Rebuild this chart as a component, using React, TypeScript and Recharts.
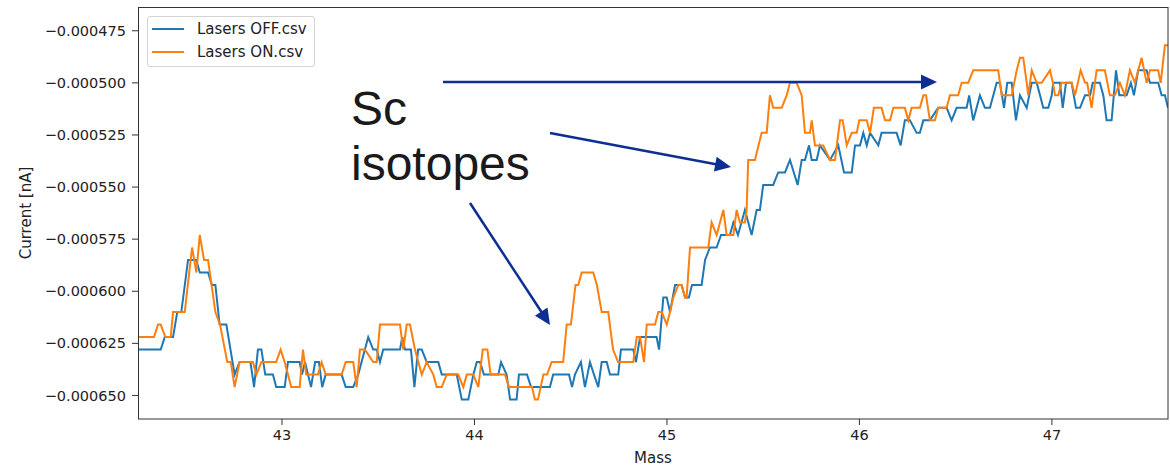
import React from 'react';
import { LineChart, Line, XAxis, YAxis, Legend } from 'recharts';

const massTicks = [43, 44, 45, 46, 47];
const currentTicks = [-0.00065, -0.000625, -0.0006, -0.000575, -0.00055, -0.000525, -0.0005, -0.000475];

const seriesNames = ['Lasers OFF.csv', 'Lasers ON.csv'];
const seriesColors = ['#1f77b4', '#ff7f0e'];

// Lasers OFF (blue)
const offMass = [
  42.252, 42.370, 42.391, 42.434, 42.456, 42.477, 42.512, 42.555, 42.573, 42.616,
  42.636, 42.654, 42.676, 42.711, 42.754, 42.780, 42.836, 42.855, 42.875, 42.893,
  42.913, 42.953, 42.970, 43.014, 43.031, 43.092, 43.104, 43.120, 43.151, 43.172,
  43.192, 43.209, 43.227, 43.310, 43.331, 43.370, 43.396, 43.448, 43.474, 43.492,
  43.509, 43.526, 43.613, 43.625, 43.639, 43.670, 43.688, 43.707, 43.726, 43.752,
  43.812, 43.830, 43.908, 43.934, 43.968, 43.994, 44.012, 44.029, 44.049, 44.124,
  44.138, 44.167, 44.185, 44.219, 44.231, 44.273, 44.294, 44.392, 44.409, 44.491,
  44.507, 44.522, 44.553, 44.574, 44.600, 44.621, 44.643, 44.661, 44.687, 44.704,
  44.747, 44.761, 44.825, 44.839, 44.860, 44.946, 44.959, 44.981, 44.999, 45.016,
  45.042, 45.076, 45.094, 45.114, 45.130, 45.180, 45.198, 45.223, 45.258, 45.281,
  45.327, 45.345, 45.369, 45.405, 45.440, 45.466, 45.483, 45.500, 45.552, 45.578,
  45.613, 45.639, 45.679, 45.700, 45.717, 45.738, 45.752, 45.778, 45.795, 45.847,
  45.890, 45.920, 45.960, 45.977, 46.003, 46.020, 46.038, 46.055, 46.098, 46.115,
  46.193, 46.214, 46.236, 46.262, 46.297, 46.314, 46.332, 46.366, 46.409, 46.453,
  46.479, 46.505, 46.557, 46.570, 46.591, 46.626, 46.652, 46.678, 46.713, 46.730,
  46.751, 46.768, 46.791, 46.813, 46.834, 46.869, 46.895, 46.921, 46.938, 46.955,
  46.981, 46.999, 47.007, 47.042, 47.056, 47.073, 47.102, 47.125, 47.146, 47.172,
  47.198, 47.212, 47.249, 47.267, 47.284, 47.310, 47.333, 47.350, 47.388, 47.410,
  47.426, 47.448, 47.492, 47.509, 47.552, 47.570, 47.587, 47.603,
];
const offCurrent = [
  -0.000628, -0.000628, -0.000622, -0.000622, -0.000610, -0.000610, -0.000585, -0.000585, -0.000591, -0.000591,
  -0.000597, -0.000597, -0.000616, -0.000616, -0.000640, -0.000634, -0.000634, -0.000646, -0.000628, -0.000628,
  -0.000640, -0.000640, -0.000646, -0.000646, -0.000634, -0.000634, -0.000640, -0.000634, -0.000646, -0.000634,
  -0.000634, -0.000646, -0.000640, -0.000640, -0.000646, -0.000646, -0.000640, -0.000622, -0.000628, -0.000628,
  -0.000634, -0.000628, -0.000628, -0.000622, -0.000628, -0.000628, -0.000646, -0.000628, -0.000628, -0.000634,
  -0.000634, -0.000640, -0.000640, -0.000652, -0.000652, -0.000640, -0.000634, -0.000634, -0.000640, -0.000640,
  -0.000634, -0.000640, -0.000652, -0.000652, -0.000640, -0.000640, -0.000646, -0.000646, -0.000640, -0.000640,
  -0.000646, -0.000640, -0.000634, -0.000646, -0.000634, -0.000640, -0.000646, -0.000634, -0.000634, -0.000640,
  -0.000640, -0.000628, -0.000628, -0.000634, -0.000622, -0.000622, -0.000628, -0.000603, -0.000603, -0.000610,
  -0.000597, -0.000597, -0.000603, -0.000603, -0.000597, -0.000597, -0.000585, -0.000579, -0.000579, -0.000573,
  -0.000573, -0.000567, -0.000573, -0.000561, -0.000573, -0.000561, -0.000561, -0.000549, -0.000549, -0.000543,
  -0.000543, -0.000537, -0.000549, -0.000537, -0.000537, -0.000530, -0.000537, -0.000537, -0.000530, -0.000537,
  -0.000530, -0.000543, -0.000543, -0.000530, -0.000530, -0.000524, -0.000530, -0.000524, -0.000530, -0.000524,
  -0.000524, -0.000530, -0.000518, -0.000518, -0.000524, -0.000524, -0.000518, -0.000518, -0.000512, -0.000512,
  -0.000518, -0.000512, -0.000512, -0.000506, -0.000518, -0.000506, -0.000512, -0.000512, -0.000500, -0.000500,
  -0.000512, -0.000500, -0.000500, -0.000518, -0.000506, -0.000512, -0.000500, -0.000500, -0.000506, -0.000512,
  -0.000512, -0.000506, -0.000500, -0.000500, -0.000512, -0.000500, -0.000500, -0.000512, -0.000512, -0.000506,
  -0.000506, -0.000500, -0.000500, -0.000506, -0.000518, -0.000518, -0.000494, -0.000506, -0.000506, -0.000500,
  -0.000506, -0.000494, -0.000494, -0.000500, -0.000500, -0.000506, -0.000506, -0.000512,
];

// Lasers ON (orange)
const onMass = [
  42.252, 42.335, 42.356, 42.370, 42.394, 42.422, 42.434, 42.495, 42.533, 42.555,
  42.573, 42.595, 42.616, 42.654, 42.678, 42.716, 42.734, 42.754, 42.780, 42.849,
  42.867, 42.893, 42.970, 42.993, 43.014, 43.048, 43.092, 43.109, 43.126, 43.187,
  43.206, 43.227, 43.310, 43.331, 43.370, 43.388, 43.405, 43.431, 43.474, 43.492,
  43.509, 43.613, 43.630, 43.648, 43.665, 43.691, 43.726, 43.752, 43.786, 43.804,
  43.830, 43.856, 43.916, 43.942, 43.960, 43.994, 44.020, 44.043, 44.067, 44.084,
  44.159, 44.179, 44.299, 44.314, 44.330, 44.358, 44.377, 44.401, 44.461, 44.479,
  44.501, 44.525, 44.539, 44.557, 44.617, 44.636, 44.661, 44.695, 44.720, 44.746,
  44.825, 44.843, 44.860, 44.881, 44.895, 44.938, 44.955, 44.973, 44.999, 45.016,
  45.033, 45.059, 45.076, 45.094, 45.102, 45.120, 45.215, 45.232, 45.258, 45.293,
  45.310, 45.345, 45.362, 45.379, 45.405, 45.414, 45.422, 45.457, 45.492, 45.518,
  45.535, 45.552, 45.596, 45.622, 45.639, 45.674, 45.700, 45.717, 45.743, 45.752,
  45.769, 45.812, 45.847, 45.873, 45.899, 45.913, 45.934, 45.960, 45.986, 45.999,
  46.038, 46.055, 46.075, 46.115, 46.133, 46.159, 46.176, 46.236, 46.254, 46.271,
  46.314, 46.332, 46.346, 46.366, 46.392, 46.409, 46.453, 46.470, 46.513, 46.531,
  46.565, 46.591, 46.721, 46.739, 46.791, 46.817, 46.834, 46.851, 46.869, 46.877,
  46.895, 46.921, 46.947, 46.990, 47.005, 47.016, 47.033, 47.050, 47.102, 47.120,
  47.149, 47.172, 47.183, 47.206, 47.232, 47.275, 47.301, 47.327, 47.353, 47.379,
  47.405, 47.431, 47.466, 47.492, 47.509, 47.552, 47.565, 47.587, 47.603,
];
const onCurrent = [
  -0.000622, -0.000622, -0.000616, -0.000616, -0.000622, -0.000622, -0.000610, -0.000610, -0.000579, -0.000591,
  -0.000573, -0.000585, -0.000585, -0.000610, -0.000616, -0.000634, -0.000634, -0.000646, -0.000634, -0.000634,
  -0.000640, -0.000634, -0.000634, -0.000628, -0.000634, -0.000646, -0.000646, -0.000628, -0.000640, -0.000640,
  -0.000634, -0.000640, -0.000640, -0.000634, -0.000634, -0.000646, -0.000628, -0.000628, -0.000634, -0.000634,
  -0.000616, -0.000616, -0.000628, -0.000616, -0.000616, -0.000628, -0.000640, -0.000634, -0.000640, -0.000646,
  -0.000646, -0.000640, -0.000640, -0.000646, -0.000640, -0.000640, -0.000646, -0.000628, -0.000628, -0.000640,
  -0.000640, -0.000646, -0.000646, -0.000652, -0.000652, -0.000640, -0.000640, -0.000634, -0.000634, -0.000616,
  -0.000616, -0.000597, -0.000597, -0.000591, -0.000591, -0.000597, -0.000610, -0.000610, -0.000628, -0.000634,
  -0.000634, -0.000622, -0.000622, -0.000634, -0.000616, -0.000616, -0.000610, -0.000610, -0.000616, -0.000610,
  -0.000603, -0.000597, -0.000597, -0.000603, -0.000603, -0.000579, -0.000579, -0.000567, -0.000573, -0.000561,
  -0.000573, -0.000573, -0.000561, -0.000567, -0.000567, -0.000561, -0.000537, -0.000537, -0.000524, -0.000524,
  -0.000506, -0.000512, -0.000512, -0.000506, -0.000500, -0.000500, -0.000506, -0.000524, -0.000524, -0.000518,
  -0.000530, -0.000530, -0.000537, -0.000537, -0.000518, -0.000518, -0.000530, -0.000524, -0.000524, -0.000518,
  -0.000518, -0.000524, -0.000512, -0.000512, -0.000518, -0.000518, -0.000512, -0.000512, -0.000518, -0.000512,
  -0.000512, -0.000506, -0.000506, -0.000518, -0.000518, -0.000512, -0.000512, -0.000506, -0.000506, -0.000500,
  -0.000500, -0.000494, -0.000494, -0.000506, -0.000506, -0.000494, -0.000488, -0.000488, -0.000500, -0.000506,
  -0.000494, -0.000500, -0.000500, -0.000494, -0.000500, -0.000506, -0.000506, -0.000500, -0.000500, -0.000506,
  -0.000494, -0.000500, -0.000500, -0.000512, -0.000494, -0.000494, -0.000506, -0.000506, -0.000500, -0.000506,
  -0.000494, -0.000500, -0.000488, -0.000500, -0.000494, -0.000494, -0.000500, -0.000482, -0.000482,
];

const offData = offMass.map((m, i) => ({ mass: m, current: offCurrent[i] }));
const onData = onMass.map((m, i) => ({ mass: m, current: onCurrent[i] }));

const ARROW = '#0d2f94';
const FONT = 'DejaVu Sans';

function Arrow({ x1, y1, x2, y2 }: { x1: number; y1: number; x2: number; y2: number }) {
  const dx = x2 - x1;
  const dy = y2 - y1;
  const len = Math.sqrt(dx * dx + dy * dy);
  const ux = dx / len;
  const uy = dy / len;
  const hl = 16;
  const hw = 7.5;
  const bx = x2 - ux * hl;
  const by = y2 - uy * hl;
  const pts = `${x2},${y2} ${bx - uy * hw},${by + ux * hw} ${bx + uy * hw},${by - ux * hw}`;
  return (
    <g>
      <line x1={x1} y1={y1} x2={bx + ux * 2} y2={by + uy * 2} stroke={ARROW} strokeWidth={2.5} />
      <polygon points={pts} fill={ARROW} />
    </g>
  );
}

const renderLegend = () => (
  <div
    style={{
      position: 'relative',
      width: 168,
      height: 51,
      boxSizing: 'border-box',
      border: '1px solid #d4d4d4',
      borderRadius: 3,
      background: 'rgba(255,255,255,0.8)',
      fontFamily: FONT,
      fontSize: 15,
      color: '#222',
    }}
  >
    {seriesNames.map((n, i) => (
      <div
        key={n}
        style={{ position: 'absolute', left: 4, top: 2 + i * 23.4, height: 20, display: 'flex', alignItems: 'center', whiteSpace: 'nowrap' }}
      >
        <span style={{ display: 'inline-block', width: 32, height: 2, background: seriesColors[i], marginRight: 13 }} />
        <span>{n}</span>
      </div>
    ))}
  </div>
);

export default function App() {
  return (
    <div style={{ position: 'absolute', left: 0, top: 0, width: 1170, height: 466, background: '#fff' }}>
      <LineChart width={1170} height={466} margin={{ top: 7, right: 2, left: 0, bottom: 0 }}>
        <XAxis
          dataKey="mass"
          type="number"
          domain={[42.252, 47.603]}
          ticks={massTicks}
          allowDataOverflow
          height={47}
          axisLine={false}
          tickLine={{ stroke: '#333' }}
          tickSize={6}
          tickMargin={5}
          tick={{ fill: '#222', fontSize: 14.5, fontFamily: FONT }}
        />
        <YAxis
          dataKey="current"
          type="number"
          domain={[-0.0006613, -0.0004636]}
          ticks={currentTicks}
          allowDataOverflow
          width={138}
          axisLine={false}
          tickLine={{ stroke: '#333' }}
          tickSize={6}
          tickMargin={6}
          tick={{ fill: '#222', fontSize: 14.5, fontFamily: FONT }}
          tickFormatter={(v: number) => v.toFixed(6).replace('-', '\u2212')}
        />
        <Line data={offData} dataKey="current" name={seriesNames[0]} type="linear" stroke={seriesColors[0]} strokeWidth={2} dot={false} isAnimationActive={false} />
        <Line data={onData} dataKey="current" name={seriesNames[1]} type="linear" stroke={seriesColors[1]} strokeWidth={2} dot={false} isAnimationActive={false} />
        <Legend
          layout="horizontal"
          verticalAlign="middle"
          align="center"
          content={renderLegend}
          wrapperStyle={{ left: 147, top: 16, width: 168, height: 51 }}
        />
      </LineChart>
      <svg width={1170} height={466} style={{ position: 'absolute', left: 0, top: 0, pointerEvents: 'none' }}>
        <rect x={138.5} y={7.5} width={1029.5} height={411.5} fill="none" stroke="#333" strokeWidth={1} />
        <text x={26} y={213} transform="rotate(-90 26 213)" textAnchor="middle" dominantBaseline="middle" fontFamily={FONT} fontSize={15} fill="#222">
          Current [nA]
        </text>
        <text x={653} y={458} textAnchor="middle" dominantBaseline="middle" fontFamily={FONT} fontSize={15} fill="#222">
          Mass
        </text>
        <text x={351} y={125} fontFamily="Liberation Sans, Arial, sans-serif" fontSize={48} fill="#1a1a1a">Sc</text>
        <text x={351} y={180} fontFamily="Liberation Sans, Arial, sans-serif" fontSize={48} fill="#1a1a1a">isotopes</text>
        <Arrow x1={443} y1={82} x2={937} y2={82} />
        <Arrow x1={550} y1={133} x2={731} y2={167} />
        <Arrow x1={470} y1={203} x2={550} y2={325} />
      </svg>
    </div>
  );
}
